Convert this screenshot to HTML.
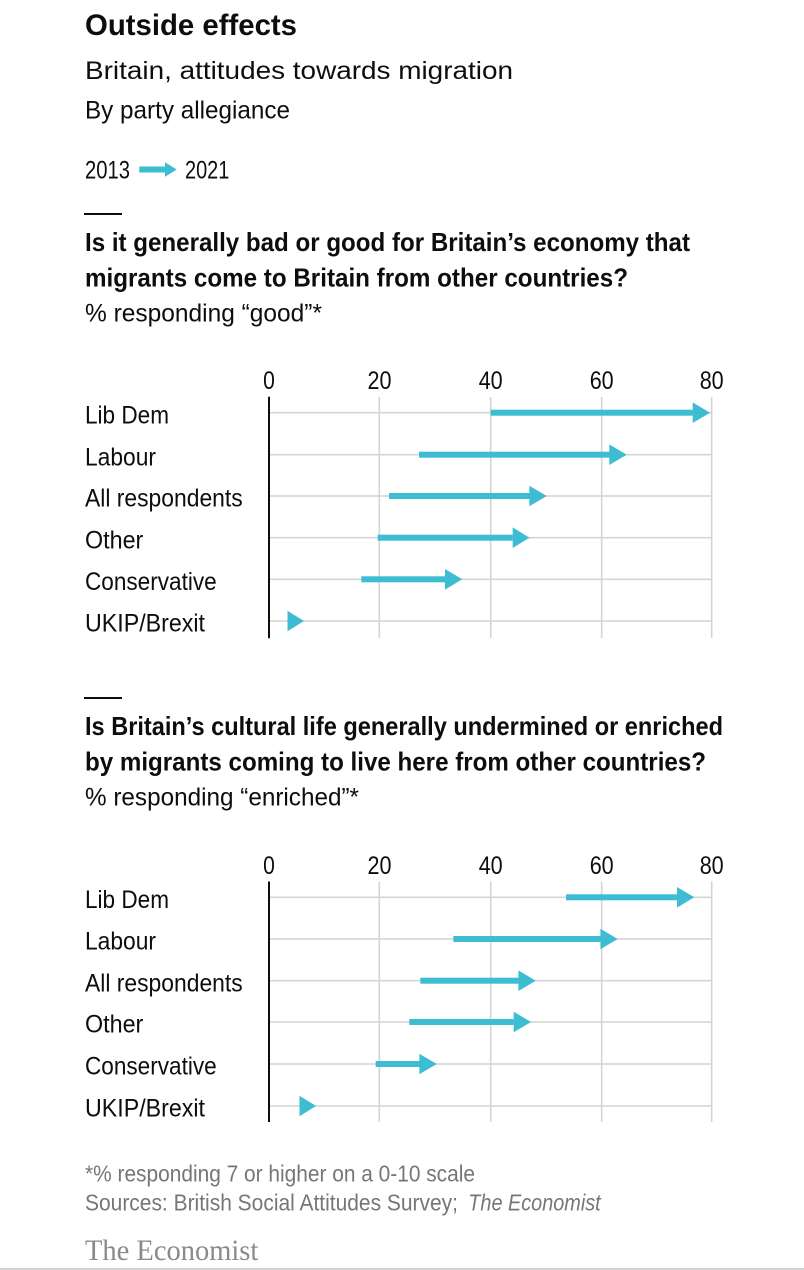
<!DOCTYPE html>
<html>
<head>
<meta charset="utf-8">
<style>
  html,body{margin:0;padding:0;background:#fff;}
  svg{display:block;}
  text{font-family:"Liberation Sans",sans-serif;}
</style>
</head>
<body>
<svg width="804" height="1270" viewBox="0 0 804 1270" xmlns="http://www.w3.org/2000/svg">
  <rect x="0" y="0" width="804" height="1270" fill="#fff"/>

  <!-- Header -->
  <text x="85" y="35" font-size="30" font-weight="bold" fill="#0d0d0d" textLength="212" lengthAdjust="spacingAndGlyphs">Outside effects</text>
  <text x="85" y="79" font-size="25" fill="#0d0d0d" textLength="428" lengthAdjust="spacingAndGlyphs">Britain, attitudes towards migration</text>
  <text x="85" y="118.5" font-size="25" fill="#0d0d0d" textLength="205" lengthAdjust="spacingAndGlyphs">By party allegiance</text>

  <!-- Legend -->
  <text x="85" y="178.3" font-size="25" fill="#0d0d0d" textLength="45" lengthAdjust="spacingAndGlyphs">2013</text>
  <rect x="139.3" y="166.5" width="26" height="6" fill="#3ebcd2"/>
  <polygon points="165,162.3 176.7,169.5 165,176.7" fill="#3ebcd2"/>
  <text x="185" y="178.3" font-size="25" fill="#0d0d0d" textLength="44.3" lengthAdjust="spacingAndGlyphs">2021</text>

  <!-- ===== Chart 1 ===== -->
  <rect x="84" y="213" width="38" height="2" fill="#0d0d0d"/>
  <text x="85" y="251" font-size="26" font-weight="bold" fill="#0d0d0d" textLength="605" lengthAdjust="spacingAndGlyphs">Is it generally bad or good for Britain’s economy that</text>
  <text x="85" y="286.5" font-size="26" font-weight="bold" fill="#0d0d0d" textLength="543" lengthAdjust="spacingAndGlyphs">migrants come to Britain from other countries?</text>
  <text x="85" y="321.5" font-size="25" fill="#0d0d0d" textLength="237" lengthAdjust="spacingAndGlyphs">% responding “good”*</text>

  <!-- ticks -->
  <g font-size="25" fill="#0d0d0d" text-anchor="middle">
    <text x="269" y="389" textLength="11.7" lengthAdjust="spacingAndGlyphs">0</text>
    <text x="379.5" y="389" textLength="24" lengthAdjust="spacingAndGlyphs">20</text>
    <text x="490.7" y="389" textLength="24" lengthAdjust="spacingAndGlyphs">40</text>
    <text x="601.7" y="389" textLength="24" lengthAdjust="spacingAndGlyphs">60</text>
    <text x="711.7" y="389" textLength="24" lengthAdjust="spacingAndGlyphs">80</text>
  </g>

  <!-- grid -->
  <g stroke="#d4d4d4" stroke-width="1.6">
    <line x1="379.3" y1="397" x2="379.3" y2="638"/>
    <line x1="490.7" y1="397" x2="490.7" y2="638"/>
    <line x1="601.7" y1="397" x2="601.7" y2="638"/>
    <line x1="711.7" y1="397" x2="711.7" y2="638"/>
    <line x1="269" y1="412.7" x2="712" y2="412.7"/>
    <line x1="269" y1="454.7" x2="712" y2="454.7"/>
    <line x1="269" y1="496" x2="712" y2="496"/>
    <line x1="269" y1="537.7" x2="712" y2="537.7"/>
    <line x1="269" y1="579.3" x2="712" y2="579.3"/>
    <line x1="269" y1="621" x2="712" y2="621"/>
  </g>
  <line x1="269" y1="396.7" x2="269" y2="638.3" stroke="#0d0d0d" stroke-width="2"/>

  <!-- row labels -->
  <g font-size="25" fill="#0d0d0d">
    <text x="85" y="423.3" textLength="84" lengthAdjust="spacingAndGlyphs">Lib Dem</text>
    <text x="85" y="465.3" textLength="71" lengthAdjust="spacingAndGlyphs">Labour</text>
    <text x="85" y="506.6" textLength="157.7" lengthAdjust="spacingAndGlyphs">All respondents</text>
    <text x="85" y="548.3" textLength="58.3" lengthAdjust="spacingAndGlyphs">Other</text>
    <text x="85" y="589.9" textLength="131.7" lengthAdjust="spacingAndGlyphs">Conservative</text>
    <text x="85" y="631.6" textLength="120" lengthAdjust="spacingAndGlyphs">UKIP/Brexit</text>
  </g>

  <!-- arrows -->
  <g fill="#3ebcd2">
    <rect x="490.7" y="409.7" width="202" height="6"/>
    <polygon points="692.7,402.4 710,412.7 692.7,423"/>
    <rect x="419" y="451.7" width="190.5" height="6"/>
    <polygon points="609.3,444.4 626.7,454.7 609.3,465"/>
    <rect x="389" y="493" width="140.5" height="6"/>
    <polygon points="529.3,485.7 546.7,496 529.3,506.3"/>
    <rect x="377.7" y="534.7" width="135" height="6"/>
    <polygon points="512.7,527.4 529.5,537.7 512.7,548"/>
    <rect x="361.3" y="576.3" width="84" height="6"/>
    <polygon points="445,569 462.3,579.3 445,589.6"/>
    <polygon points="287.5,610.7 304,621 287.5,631.3"/>
  </g>

  <!-- ===== Chart 2 ===== -->
  <rect x="84" y="697" width="38" height="2" fill="#0d0d0d"/>
  <text x="85" y="735" font-size="26" font-weight="bold" fill="#0d0d0d" textLength="638" lengthAdjust="spacingAndGlyphs">Is Britain’s cultural life generally undermined or enriched</text>
  <text x="85" y="770.5" font-size="26" font-weight="bold" fill="#0d0d0d" textLength="621" lengthAdjust="spacingAndGlyphs">by migrants coming to live here from other countries?</text>
  <text x="85" y="805.5" font-size="25" fill="#0d0d0d" textLength="274" lengthAdjust="spacingAndGlyphs">% responding “enriched”*</text>

  <g font-size="25" fill="#0d0d0d" text-anchor="middle">
    <text x="269" y="874" textLength="11.7" lengthAdjust="spacingAndGlyphs">0</text>
    <text x="379.5" y="874" textLength="24" lengthAdjust="spacingAndGlyphs">20</text>
    <text x="490.7" y="874" textLength="24" lengthAdjust="spacingAndGlyphs">40</text>
    <text x="601.7" y="874" textLength="24" lengthAdjust="spacingAndGlyphs">60</text>
    <text x="711.7" y="874" textLength="24" lengthAdjust="spacingAndGlyphs">80</text>
  </g>

  <g stroke="#d4d4d4" stroke-width="1.6">
    <line x1="379.3" y1="881.5" x2="379.3" y2="1122"/>
    <line x1="490.7" y1="881.5" x2="490.7" y2="1122"/>
    <line x1="601.7" y1="881.5" x2="601.7" y2="1122"/>
    <line x1="711.7" y1="881.5" x2="711.7" y2="1122"/>
    <line x1="269" y1="897.3" x2="712" y2="897.3"/>
    <line x1="269" y1="939" x2="712" y2="939"/>
    <line x1="269" y1="980.7" x2="712" y2="980.7"/>
    <line x1="269" y1="1022" x2="712" y2="1022"/>
    <line x1="269" y1="1064" x2="712" y2="1064"/>
    <line x1="269" y1="1106" x2="712" y2="1106"/>
  </g>
  <line x1="269" y1="881.5" x2="269" y2="1122" stroke="#0d0d0d" stroke-width="2"/>

  <g font-size="25" fill="#0d0d0d">
    <text x="85" y="907.9" textLength="84" lengthAdjust="spacingAndGlyphs">Lib Dem</text>
    <text x="85" y="949.6" textLength="71" lengthAdjust="spacingAndGlyphs">Labour</text>
    <text x="85" y="991.3" textLength="157.7" lengthAdjust="spacingAndGlyphs">All respondents</text>
    <text x="85" y="1032.6" textLength="58.3" lengthAdjust="spacingAndGlyphs">Other</text>
    <text x="85" y="1074.6" textLength="131.7" lengthAdjust="spacingAndGlyphs">Conservative</text>
    <text x="85" y="1116.6" textLength="120" lengthAdjust="spacingAndGlyphs">UKIP/Brexit</text>
  </g>

  <g fill="#3ebcd2">
    <rect x="566" y="894.3" width="111" height="6"/>
    <polygon points="677,887 694.3,897.3 677,907.6"/>
    <rect x="453.3" y="936" width="147.2" height="6"/>
    <polygon points="600.4,928.7 617.7,939 600.4,949.3"/>
    <rect x="420.3" y="977.7" width="98.2" height="6"/>
    <polygon points="518.4,970.4 535.7,980.7 518.4,991"/>
    <rect x="409.3" y="1019" width="104.5" height="6"/>
    <polygon points="513.7,1011.7 531,1022 513.7,1032.3"/>
    <rect x="375.7" y="1061" width="44" height="6"/>
    <polygon points="419.4,1053.7 436.7,1064 419.4,1074.3"/>
    <polygon points="299.5,1095.7 316,1106 299.5,1116.3"/>
  </g>

  <!-- Footer -->
  <text x="85" y="1181.7" font-size="23" fill="#767676" textLength="390" lengthAdjust="spacingAndGlyphs">*% responding 7 or higher on a 0-10 scale</text>
  <text x="85" y="1210.5" font-size="23" fill="#767676" textLength="373" lengthAdjust="spacingAndGlyphs">Sources: British Social Attitudes Survey;</text>
  <text x="468.3" y="1210.5" font-size="23" font-style="italic" fill="#767676" textLength="132.4" lengthAdjust="spacingAndGlyphs">The Economist</text>
  <text x="85" y="1260" font-size="30" fill="#8a8a8a" style="font-family:'Liberation Serif',serif" textLength="173.3" lengthAdjust="spacingAndGlyphs">The Economist</text>
  <rect x="0" y="1268" width="804" height="2" fill="#d2d2d2"/>
</svg>
</body>
</html>
